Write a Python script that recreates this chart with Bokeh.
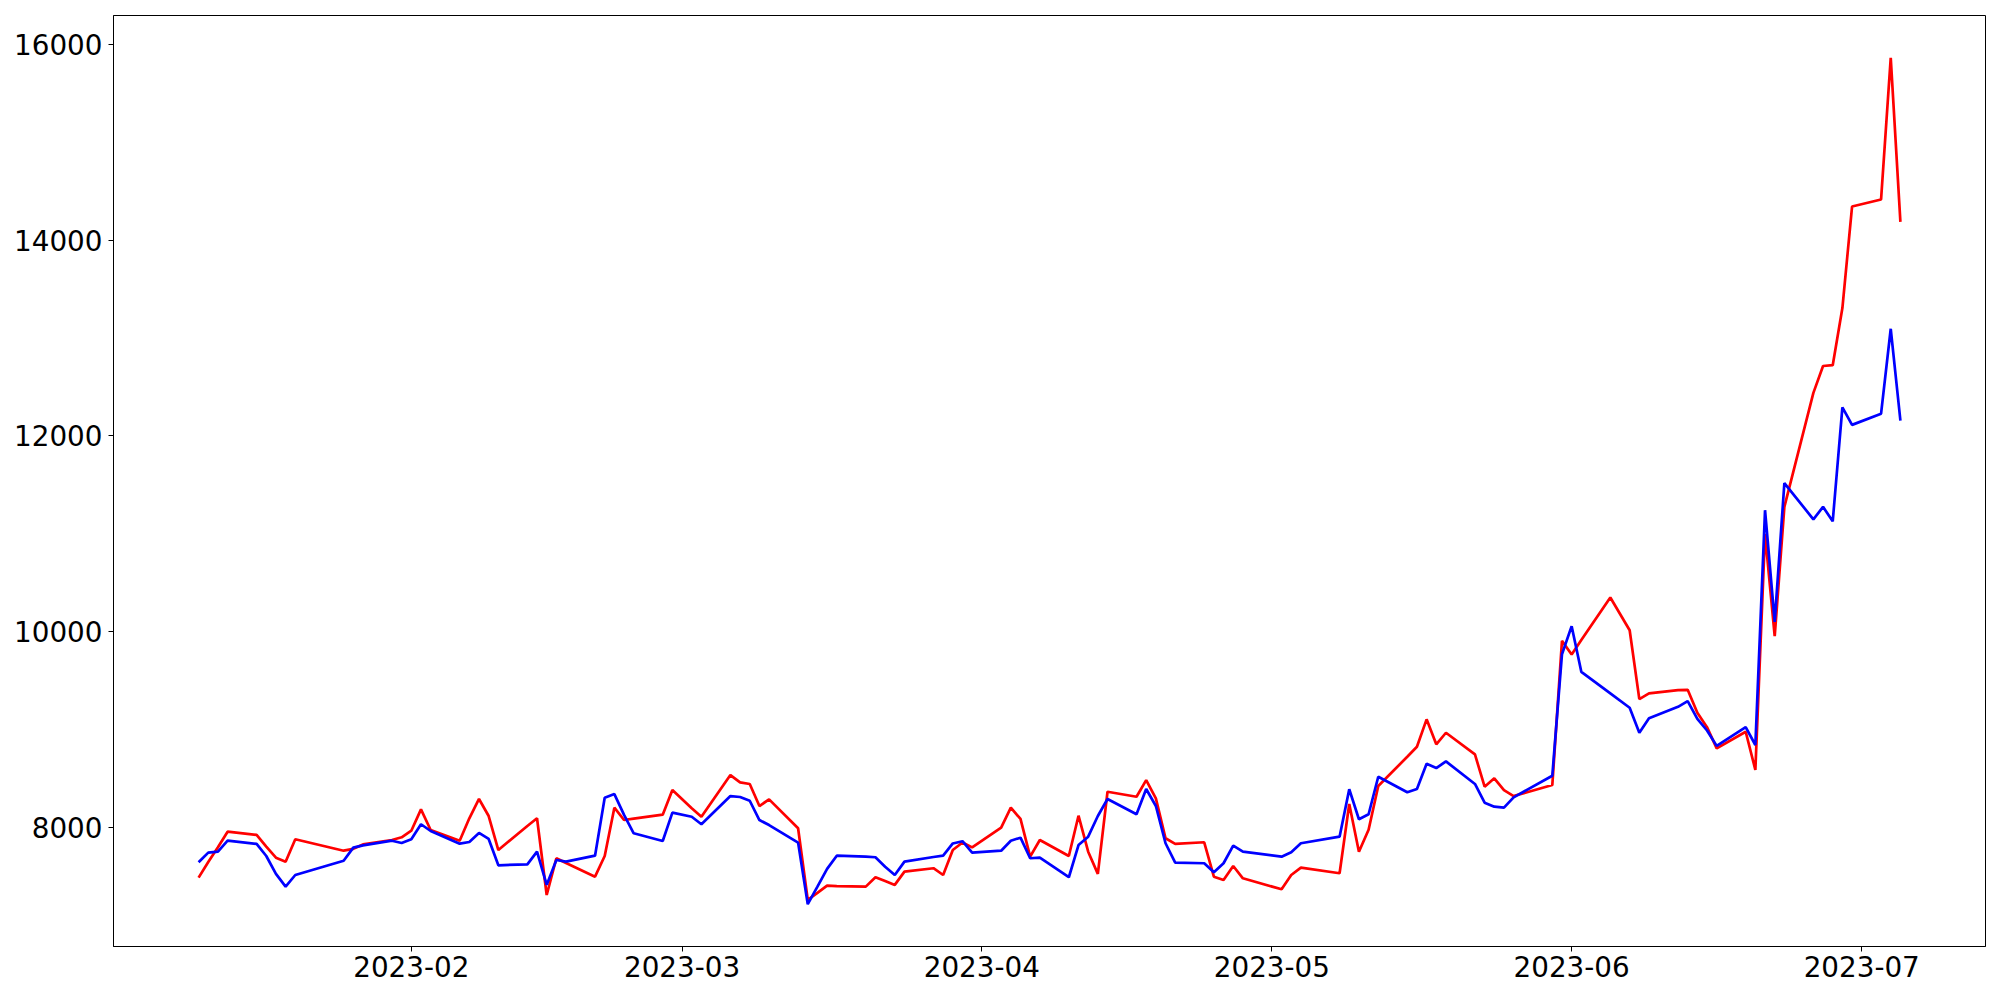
import pandas as pd
from bokeh.plotting import figure
from bokeh.models import ColumnDataSource, FixedTicker, Range1d, DatetimeTickFormatter
from bokeh.embed import file_html
from bokeh.resources import INLINE

# ---- data ----
dates = [
    "2023-01-10", "2023-01-11", "2023-01-12", "2023-01-13", "2023-01-16", "2023-01-17",
    "2023-01-18", "2023-01-19", "2023-01-20", "2023-01-25", "2023-01-26", "2023-01-27",
    "2023-01-30", "2023-01-31",
    "2023-02-01", "2023-02-02", "2023-02-03", "2023-02-06", "2023-02-07", "2023-02-08",
    "2023-02-09", "2023-02-10", "2023-02-13", "2023-02-14", "2023-02-15", "2023-02-16",
    "2023-02-17", "2023-02-20", "2023-02-21", "2023-02-22", "2023-02-23", "2023-02-24",
    "2023-02-27", "2023-02-28",
    "2023-03-02", "2023-03-03", "2023-03-06", "2023-03-07", "2023-03-08", "2023-03-09",
    "2023-03-10", "2023-03-13", "2023-03-14", "2023-03-15", "2023-03-16", "2023-03-17",
    "2023-03-20", "2023-03-21", "2023-03-22", "2023-03-23", "2023-03-24", "2023-03-27",
    "2023-03-28", "2023-03-29", "2023-03-30", "2023-03-31",
    "2023-04-03", "2023-04-04", "2023-04-05", "2023-04-06", "2023-04-07", "2023-04-10",
    "2023-04-11", "2023-04-12", "2023-04-13", "2023-04-14", "2023-04-17", "2023-04-18",
    "2023-04-19", "2023-04-20", "2023-04-21", "2023-04-24", "2023-04-25", "2023-04-26",
    "2023-04-27", "2023-04-28",
    "2023-05-02", "2023-05-03", "2023-05-04", "2023-05-08", "2023-05-09", "2023-05-10",
    "2023-05-11", "2023-05-12", "2023-05-15", "2023-05-16", "2023-05-17", "2023-05-18",
    "2023-05-19", "2023-05-22", "2023-05-23", "2023-05-24", "2023-05-25", "2023-05-26",
    "2023-05-30", "2023-05-31",
    "2023-06-01", "2023-06-02", "2023-06-05", "2023-06-07", "2023-06-08", "2023-06-09",
    "2023-06-12", "2023-06-13", "2023-06-14", "2023-06-15", "2023-06-16", "2023-06-19",
    "2023-06-20", "2023-06-21", "2023-06-22", "2023-06-23", "2023-06-26", "2023-06-27",
    "2023-06-28", "2023-06-29", "2023-06-30",
    "2023-07-03", "2023-07-04", "2023-07-05",
]

red_values = [
    7491, 7651, 7801, 7960, 7927, 7807, 7695, 7654, 7883, 7766, 7785, 7830, 7875, 7903,
    7970, 8188, 7977, 7868, 8097, 8294, 8120, 7773, 8018, 8097, 7314, 7689, 7640, 7501,
    7712, 8205, 8079, 8093, 8134, 8385,
    8199, 8113, 8538, 8464, 8447, 8222, 8290, 7995, 7264, 7335, 7410, 7405, 7399, 7495,
    7457, 7417, 7552, 7587, 7518, 7773, 7850, 7800,
    8001, 8205, 8090, 7705, 7875, 7712, 8123, 7756, 7529, 8368, 8317, 8487, 8300, 7893,
    7835, 7852, 7501, 7467, 7610, 7484,
    7372, 7518, 7593, 7536, 8243, 7755, 7980, 8426, 8725, 8827, 9107, 8852, 8970, 8749,
    8419, 8505, 8385, 8324, 8436, 9908,
    9769, 9918, 10351, 10017, 9313, 9372, 9405, 9408, 9175, 9027, 8811, 8980, 8591, 11000,
    9957, 11276, 12440, 12714, 12722, 13306, 14342,
    14414, 15860, 14186,
]

blue_values = [
    7648, 7746, 7756, 7868, 7835, 7712, 7529, 7399, 7518, 7664, 7797, 7820, 7868, 7845,
    7883, 8036, 7967, 7838, 7855, 7947, 7886, 7617, 7627, 7756, 7417, 7671, 7654, 7715,
    8307, 8344, 8131, 7944, 7865, 8154,
    8113, 8036, 8324, 8314, 8276, 8079, 8028, 7848, 7220, 7399, 7580, 7715, 7705, 7699,
    7603, 7518, 7654, 7702, 7715, 7840, 7863, 7746,
    7766, 7868, 7899, 7689, 7695, 7495, 7824, 7909, 8120, 8294, 8138, 8396, 8222, 7842,
    7644, 7638, 7546, 7638, 7818, 7756,
    7705, 7750, 7842, 7909, 8393, 8087, 8138, 8521, 8362, 8396, 8654, 8610, 8678, 8447,
    8256, 8215, 8205, 8311, 8531, 9772,
    10058, 9592, 9372, 9225, 8970, 9117, 9235, 9293, 9111, 8993, 8836, 9027, 8845, 11242,
    10101, 11518, 11149, 11276, 11128, 12292, 12113,
    12227, 13094, 12156,
]

x_tick_labels = ["2023-02", "2023-03", "2023-04", "2023-05", "2023-06", "2023-07"]
y_ticks = [8000, 10000, 12000, 14000, 16000]

# ---- build ----
dt = pd.to_datetime(dates)
source = ColumnDataSource(data=dict(date=dt, red=red_values, blue=blue_values))

span = dt.max() - dt.min()
x_start = dt.min() - 0.05 * span
x_end = dt.max() + 0.05 * span
all_vals = red_values + blue_values
lo, hi = min(all_vals), max(all_vals)
pad = 0.05 * (hi - lo)

p = figure(width=1992, height=992, x_axis_type="datetime",
           output_backend="svg", toolbar_location=None,
           x_range=Range1d(x_start, x_end), y_range=Range1d(lo - pad, hi + pad))
p.min_border = 0
p.min_border_left = 113
p.min_border_right = 7
p.min_border_top = 15
p.min_border_bottom = 46

p.xgrid.visible = False
p.ygrid.visible = False
p.outline_line_color = "black"
p.outline_line_alpha = 1.0
p.outline_line_width = 1
p.background_fill_color = "white"
p.border_fill_color = "white"

p.line("date", "red", source=source, color="#ff0000", line_width=2.7)
p.line("date", "blue", source=source, color="#0000ff", line_width=2.7)

x_tick_ms = [pd.Timestamp(lbl + "-01").value // 10**6 for lbl in x_tick_labels]
p.xaxis.ticker = FixedTicker(ticks=x_tick_ms)
fmt = "%Y-%m"
p.xaxis.formatter = DatetimeTickFormatter(
    microseconds=fmt, milliseconds=fmt, seconds=fmt, minsec=fmt, minutes=fmt,
    hourmin=fmt, hours=fmt, days=fmt, months=fmt, years=fmt)
p.yaxis.ticker = FixedTicker(ticks=y_ticks)

for ax in (p.xaxis[0], p.yaxis[0]):
    ax.major_label_text_font = "DejaVu Sans"
    ax.major_label_text_font_size = "27.8px"
    ax.major_label_text_color = "black"
    ax.axis_line_color = "black"
    ax.axis_line_width = 1
    ax.major_tick_line_color = "black"
    ax.major_tick_line_width = 1
    ax.major_tick_in = 0
    ax.major_tick_out = 5
    ax.minor_tick_line_color = None

p.xaxis.major_label_standoff = 4
p.yaxis.major_label_standoff = 6

open("out.html", "w").write(file_html(p, INLINE))
